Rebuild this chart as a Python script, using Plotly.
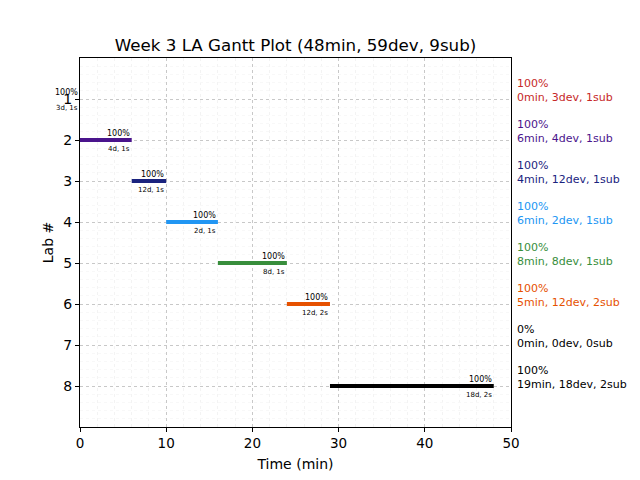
import plotly.graph_objects as go

labs = [1, 2, 3, 4, 5, 6, 7, 8]
starts = [0, 0, 6, 10, 16, 24, 0, 29]
ends = [0, 6, 10, 16, 24, 29, 0, 48]
minutes = [0, 6, 4, 6, 8, 5, 0, 19]
devs = [3, 4, 12, 2, 8, 12, 0, 18]
subs = [1, 1, 1, 1, 1, 2, 0, 2]
pcts = [100, 100, 100, 100, 100, 100, 0, 100]
colors = ["#c62828", "#4a148c", "#1a237e", "#2196f3", "#388e3c", "#e65100", "#000000", "#000000"]
title = "Week 3 LA Gantt Plot (48min, 59dev, 9sub)"

FONT = "DejaVu Sans"
fig = go.Figure()
annotations = []
for i, lab in enumerate(labs):
    if ends[i] > starts[i]:
        fig.add_trace(go.Scatter(x=[starts[i], ends[i]], y=[lab, lab], mode="lines",
                                 line=dict(color=colors[i], width=4), showlegend=False,
                                 hoverinfo="skip"))
    if pcts[i] > 0:
        annotations.append(dict(x=ends[i], y=lab, xref="x", yref="y", text=f"{pcts[i]}%",
                                showarrow=False, xanchor="right", yanchor="bottom", yshift=0,
                                font=dict(family=FONT, size=8, color="black")))
        annotations.append(dict(x=ends[i], y=lab, xref="x", yref="y", text=f"{devs[i]}d, {subs[i]}s",
                                showarrow=False, xanchor="right", yanchor="top", yshift=-3,
                                font=dict(family=FONT, size=7, color="black")))
    annotations.append(dict(x=1.01, y=lab, xref="paper", yref="y",
                            text=f"{pcts[i]}%<br>{minutes[i]}min, {devs[i]}dev, {subs[i]}sub",
                            showarrow=False, xanchor="left", yanchor="bottom", yshift=-7, align="left",
                            font=dict(family=FONT, size=11, color=colors[i])))

fig.update_layout(
    width=640, height=480,
    margin=dict(l=80, r=129, t=58, b=53, autoexpand=False),
    paper_bgcolor="white", plot_bgcolor="white",
    title=dict(text=title, x=0.5, xanchor="center", xref="paper", y=1 - 45 / 480, yanchor="middle",
               font=dict(family=FONT, size=16.7, color="black")),
    font=dict(family=FONT, size=13, color="black"),
    annotations=annotations,
    xaxis=dict(range=[0, 50], dtick=10, showline=True, mirror=True, linecolor="black", linewidth=1.2,
               ticks="outside", ticklen=4, tickcolor="black", zeroline=False, automargin=False,
               showgrid=True, gridcolor="#c8c8c8", griddash="dot", gridwidth=1,
               minor=dict(dtick=2, showgrid=True, gridcolor="#f3f3f3", gridwidth=1),
               title=dict(text="Time (min)", font=dict(family=FONT, size=14), standoff=8),
               tickfont=dict(family=FONT, size=13.5)),
    yaxis=dict(range=[9, 0], tickvals=labs, showline=True, mirror=True, linecolor="black", linewidth=1.2,
               ticks="outside", ticklen=4, tickcolor="black", zeroline=False, automargin=False,
               showgrid=True, gridcolor="#c8c8c8", griddash="dot", gridwidth=1,
               minor=dict(dtick=0.2, showgrid=True, gridcolor="#f8f8f8", gridwidth=1),
               title=dict(text="Lab #", font=dict(family=FONT, size=14), standoff=6),
               tickfont=dict(family=FONT, size=14)),
)
fig.write_html("out.html", config={"displayModeBar": False},
               post_script="document.body.style.margin='0';document.body.style.overflow='hidden';")
